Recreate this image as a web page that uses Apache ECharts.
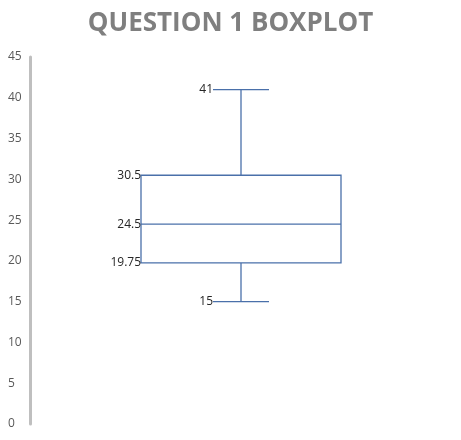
<!DOCTYPE html>
<html><head><meta charset="utf-8">
<script src="https://cdn.jsdelivr.net/npm/echarts@6/dist/echarts.min.js"></script>
<style>html,body{margin:0;padding:0;background:#fff}#c{width:461px;height:440px}</style>
</head><body><div id="c"></div>
<script>
var categories = ['Question 1'];
// min, q1, median, q3, max
var boxValues = [[15, 19.75, 24.5, 30.5, 41]];
var boxLabels = ['15', '19.75', '24.5', '30.5', '41'];
var yTicks = [0, 5, 10, 15, 20, 25, 30, 35, 40, 45];

var chart = echarts.init(document.getElementById('c'));
var blue = '#4a70aa';
chart.setOption({
  title: {
    text: 'QUESTION 1 BOXPLOT', left: 'center', top: 6,
    textStyle: {color: '#7f7f7f', fontSize: 26, fontWeight: 'bold', fontFamily: 'Open Sans'}
  },
  grid: {left: 30, right: 9, top: 57, bottom: 16},
  xAxis: {type: 'category', data: categories, show: false},
  yAxis: {
    type: 'value', min: yTicks[0], max: yTicks[yTicks.length - 1], interval: 5,
    axisLine: {show: true, lineStyle: {color: '#bfbfbf', width: 3}},
    axisTick: {show: false}, splitLine: {show: false},
    axisLabel: {align: 'left', margin: 22, color: '#595959', fontSize: 12, fontFamily: 'Open Sans'}
  },
  series: [{
    type: 'custom',
    data: boxValues.map(function (v, i) { return [i].concat(v); }),
    renderItem: function (params, api) {
      var x = api.coord([api.value(0), 0])[0];
      var y = function (k) { return api.coord([api.value(0), api.value(k)])[1]; };
      var half = 100, cap = 28;
      var st = {stroke: blue, lineWidth: 1.3, fill: null};
      var ls = function (x1, y1, x2, y2) { return {type: 'line', shape: {x1: x1, y1: y1, x2: x2, y2: y2}, style: st}; };
      var tx = function (t, tx0, ty) {
        return {type: 'text', style: {text: t, x: tx0, y: ty, align: 'right', verticalAlign: 'middle', fill: '#262626', fontSize: 12, fontFamily: 'Open Sans'}};
      };
      var i = params.dataIndex;
      return {type: 'group', children: [
        {type: 'rect', shape: {x: x - half, y: y(4), width: 2 * half, height: y(2) - y(4)}, style: st},
        ls(x - half, y(3), x + half, y(3)),
        ls(x, y(4), x, y(5)), ls(x - cap, y(5), x + cap, y(5)),
        ls(x, y(2), x, y(1)), ls(x - cap, y(1), x + cap, y(1)),
        tx(boxLabels[4], x - cap, y(5)), tx(boxLabels[3], x - half, y(4)),
        tx(boxLabels[2], x - half, y(3)), tx(boxLabels[1], x - half, y(2)),
        tx(boxLabels[0], x - cap, y(1))
      ]};
    }
  }]
});
</script></body></html>
